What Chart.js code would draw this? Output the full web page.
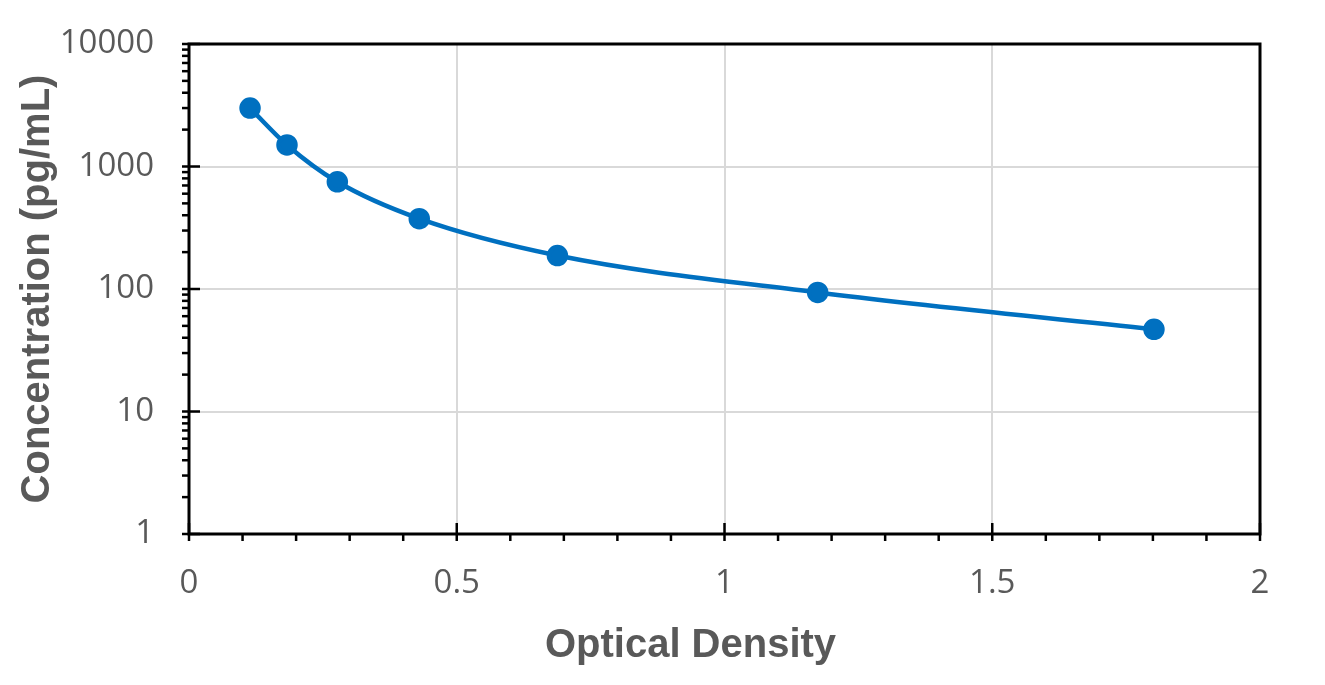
<!DOCTYPE html>
<html>
<head>
<meta charset="utf-8">
<script src="https://cdn.jsdelivr.net/npm/chart.js@4"></script>
<style>
  body { margin: 0; background: #fff; }
  #wrap { width: 1325px; height: 685px; }
</style>
</head>
<body>
<div id="wrap"><canvas id="curve"></canvas></div>
<script>
// standard curve data
const opticalDensity = [0.114, 0.183, 0.277, 0.430, 0.688, 1.174, 1.802];
const concentration = [3000, 1500, 750, 375, 187.5, 93.75, 46.875];
const xTickValues = [0, 0.5, 1, 1.5, 2];
const yTickValues = [1, 10, 100, 1000, 10000];
const xTitle = "Optical Density";

const blue = "#0070C0";
const textGrey = "#595959";

// draws the box frame, the Excel-like tick marks and the x title (sits a bit left of centre)
const frameAndTicks = {
  id: "frameAndTicks",
  afterDraw(chart) {
    const ctx = chart.ctx;
    const area = chart.chartArea;
    const xs = chart.scales.x;
    const ys = chart.scales.y;
    ctx.save();
    ctx.strokeStyle = "#000";
    ctx.lineWidth = 3;
    ctx.strokeRect(area.left, area.top, area.right - area.left, area.bottom - area.top);

    ctx.lineWidth = 2.5;
    // x ticks every 0.1
    for (let i = 0; i <= 20; i++) {
      const v = i / 10;
      const px = xs.getPixelForValue(v);
      const major = i % 5 === 0;
      ctx.beginPath();
      ctx.moveTo(px, major ? area.bottom - 11 : area.bottom);
      ctx.lineTo(px, area.bottom + 7);
      ctx.stroke();
    }
    // y ticks: decades and minor 2..9
    for (let d = 0; d < yTickValues.length; d++) {
      const dec = yTickValues[d];
      const py = ys.getPixelForValue(dec);
      ctx.beginPath();
      ctx.moveTo(area.left - 7, py);
      ctx.lineTo(area.left + 11, py);
      ctx.stroke();
      if (d === yTickValues.length - 1) break;
      for (let m = 2; m <= 9; m++) {
        const pm = ys.getPixelForValue(dec * m);
        ctx.beginPath();
        ctx.moveTo(area.left - 7, pm);
        ctx.lineTo(area.left, pm);
        ctx.stroke();
      }
    }

    // x axis title
    ctx.fillStyle = textGrey;
    ctx.font = "bold 40px 'Liberation Sans', Arial, sans-serif";
    ctx.textAlign = "center";
    ctx.textBaseline = "middle";
    ctx.fillText(xTitle, (area.left + area.right) / 2 - 34, xs.bottom - 29);
    ctx.restore();
  }
};

const points = opticalDensity.map((x, i) => ({ x: x, y: concentration[i] }));

new Chart(document.getElementById("curve"), {
  type: "scatter",
  data: {
    datasets: [
      {
        label: "Standard curve",
        data: points,
        showLine: true,
        borderColor: blue,
        backgroundColor: blue,
        borderWidth: 4.5,
        pointRadius: 8.5,
        pointHoverRadius: 8.5,
        cubicInterpolationMode: "monotone",
      },
    ],
  },
  options: {
    responsive: true,
    maintainAspectRatio: false,
    animation: false,
    layout: { padding: { left: 14, right: 65, top: 44, bottom: 10 } },
    plugins: {
      legend: { display: false },
      tooltip: { enabled: false },
    },
    scales: {
      x: {
        type: "linear",
        min: 0,
        max: 2,
        afterBuildTicks: (axis) => {
          axis.ticks = xTickValues.map((v) => ({ value: v }));
        },
        afterFit: (axis) => {
          axis.height = 141;
          axis.paddingLeft = 0;
          axis.paddingRight = 0;
        },
        ticks: {
          color: textGrey,
          font: { family: "'Open Sans', sans-serif", size: 33 },
          padding: 30,
          callback: (v) => String(v),
        },
        grid: { color: "#d9d9d9", lineWidth: 2, drawTicks: false },
        border: { display: false },
      },
      y: {
        type: "logarithmic",
        min: 1,
        max: 10000,
        afterBuildTicks: (axis) => {
          axis.ticks = yTickValues.map((v) => ({ value: v }));
        },
        afterFit: (axis) => {
          axis.width = 175;
          axis.paddingTop = 0;
          axis.paddingBottom = 0;
        },
        ticks: {
          color: textGrey,
          font: { family: "'Open Sans', sans-serif", size: 33 },
          padding: 35,
          callback: (v) => String(v),
        },
        grid: { color: "#d9d9d9", lineWidth: 2, drawTicks: false },
        border: { display: false },
        title: {
          display: true,
          text: "Concentration (pg/mL)",
          color: textGrey,
          font: { family: "'Liberation Sans', Arial, sans-serif", size: 40, weight: "bold" },
          padding: { top: 0, bottom: 10 },
        },
      },
    },
  },
  plugins: [frameAndTicks],
});
</script>
</body>
</html>
